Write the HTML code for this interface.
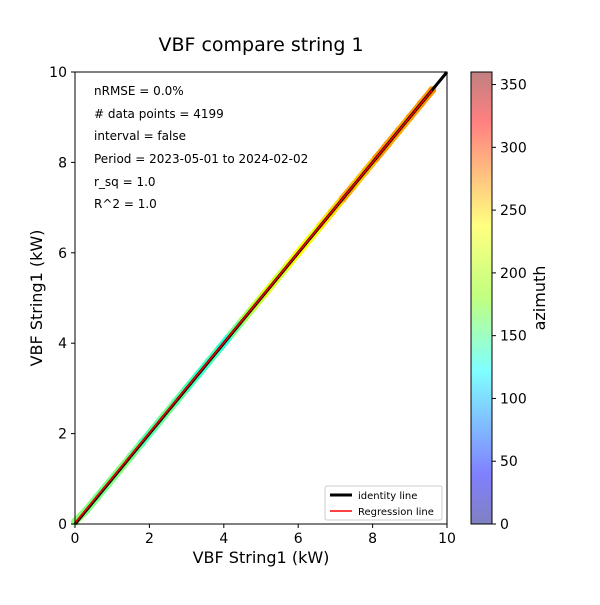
<!DOCTYPE html>
<html><head><meta charset="utf-8"><style>
body{margin:0;background:#fff}
svg text{font-family:"DejaVu Sans","Liberation Sans",sans-serif}
</style></head><body>
<svg id="chart" width="600" height="600" viewBox="0 0 600 600">
<defs>
<linearGradient id="jet" x1="0" y1="1" x2="0" y2="0">
<stop offset="0" stop-color="#8080c0"/>
<stop offset="0.11" stop-color="#8080ff"/>
<stop offset="0.34" stop-color="#80ffff"/>
<stop offset="0.5" stop-color="#c0ff80"/>
<stop offset="0.66" stop-color="#ffff80"/>
<stop offset="0.89" stop-color="#ff8080"/>
<stop offset="1" stop-color="#c08080"/>
</linearGradient>
</defs>
<rect width="600" height="600" fill="#fff"/>
<text x="261" y="51" font-size="19" text-anchor="middle">VBF compare string 1</text>
<g id="marks"></g>
<rect x="75" y="72" width="372" height="452" fill="none" stroke="#000" stroke-width="1"/>
<g id="ticks"></g>
<text x="261" y="563" font-size="16" text-anchor="middle">VBF String1 (kW)</text>
<text transform="translate(42,298) rotate(-90)" font-size="16" text-anchor="middle">VBF String1 (kW)</text>
<g font-size="12">
<text x="94" y="95">nRMSE = 0.0%</text>
<text x="94" y="118">#  data points = 4199</text>
<text x="94" y="140">interval = false</text>
<text x="94" y="163">Period = 2023-05-01 to 2024-02-02</text>
<text x="94" y="186">r_sq = 1.0</text>
<text x="94" y="208">R^2 = 1.0</text>
</g>
<g>
<rect x="325" y="486" width="117" height="34" fill="#fff" stroke="#ccc" rx="2"/>
<line x1="330" y1="495" x2="352" y2="495" stroke="#000" stroke-width="3"/>
<text x="358" y="499" font-size="10">identity line</text>
<line x1="330" y1="511" x2="352" y2="511" stroke="#f00" stroke-width="1.5"/>
<text x="358" y="515" font-size="10">Regression line</text>
</g>
<rect x="471" y="72" width="21" height="452" fill="url(#jet)" stroke="#000" stroke-width="1"/>
<g id="cticks"></g>
<text transform="translate(545,298) rotate(-90)" font-size="16" text-anchor="middle">azimuth</text>
</svg>
<script>
const xTicks=[0,2,4,6,8,10];
const yTicks=[0,2,4,6,8,10];
const cTicks=[0,50,100,150,200,250,300,350];
const pointX=[0,0.3,0.6,0.9,1.2,1.5,1.8,2.1,2.4,2.7,3.0,3.3,3.6,3.9,4.2,4.5,4.8,5.1,5.4,5.7,6.0,6.3,6.6,6.9,7.2,7.5,7.8,8.1,8.4,8.7,9.0,9.3,9.6];
const pointY=[0.05,0.3,0.6,0.9,1.2,1.5,1.8,2.1,2.4,2.7,3.0,3.3,3.6,3.9,4.2,4.5,4.8,5.1,5.4,5.7,6.0,6.3,6.6,6.9,7.2,7.5,7.8,8.1,8.4,8.7,9.0,9.3,9.6];
const pointAz=[185,180,175,178,182,175,165,170,175,168,160,155,160,150,175,195,205,215,210,220,225,220,235,240,255,245,250,262,258,255,260,262,265];
const xMin=0,xMax=10,yMin=0,yMax=10,cMin=0,cMax=360;
const X=v=>75+(v-xMin)/(xMax-xMin)*372;
const Y=v=>524-(v-yMin)/(yMax-yMin)*452;
const C=v=>524-(v-cMin)/(cMax-cMin)*452;
function jet(t){
  const r=Math.min(1,Math.max(0,1.5-Math.abs(4*t-3)));
  const g=Math.min(1,Math.max(0,1.5-Math.abs(4*t-2)));
  const b=Math.min(1,Math.max(0,1.5-Math.abs(4*t-1)));
  return `rgb(${Math.round(r*255)},${Math.round(g*255)},${Math.round(b*255)})`;
}
const NS='http://www.w3.org/2000/svg';
const marks=document.getElementById('marks');
for(let i=0;i<pointX.length;i++){
  const c=document.createElementNS(NS,'circle');
  
  
  c.setAttribute('cx',X(pointX[i]));c.setAttribute('cy',Y(pointY[i]));
  c.setAttribute('r',4);c.setAttribute('fill',jet(pointAz[i]/cMax));
  marks.appendChild(c);
  if(i<pointX.length-1){
    const s=document.createElementNS(NS,'line');
    
    
    s.setAttribute('x1',X(pointX[i]));s.setAttribute('y1',Y(pointY[i]));
    s.setAttribute('x2',X(pointX[i+1]));s.setAttribute('y2',Y(pointY[i+1]));
    s.setAttribute('stroke',jet(pointAz[i]/cMax));s.setAttribute('stroke-width',7.5);
    marks.appendChild(s);
  }
}
const id=document.createElementNS(NS,'line');


id.setAttribute('x1',X(0));id.setAttribute('y1',Y(0));id.setAttribute('x2',X(10));id.setAttribute('y2',Y(10));
id.setAttribute('stroke','#000');id.setAttribute('stroke-width',3);
marks.appendChild(id);
const rg=document.createElementNS(NS,'line');


rg.setAttribute('x1',X(0));rg.setAttribute('y1',Y(pointY[0]-0.03));rg.setAttribute('x2',X(pointX[pointX.length-1]));rg.setAttribute('y2',Y(pointY[pointY.length-1]));
rg.setAttribute('stroke','#f00');rg.setAttribute('stroke-width',1.5);
marks.appendChild(rg);
const tk=document.getElementById('ticks');
xTicks.forEach(v=>{
  const l=document.createElementNS(NS,'line');
  
  
  l.setAttribute('x1',X(v));l.setAttribute('x2',X(v));l.setAttribute('y1',524);l.setAttribute('y2',528);l.setAttribute('stroke','#000');
  tk.appendChild(l);
  const t=document.createElementNS(NS,'text');
  
  
  t.setAttribute('x',X(v));t.setAttribute('y',543);t.setAttribute('font-size',14);t.setAttribute('text-anchor','middle');
  t.textContent=v;tk.appendChild(t);
});
yTicks.forEach(v=>{
  const l=document.createElementNS(NS,'line');
  
  
  l.setAttribute('x1',71);l.setAttribute('x2',75);l.setAttribute('y1',Y(v));l.setAttribute('y2',Y(v));l.setAttribute('stroke','#000');
  tk.appendChild(l);
  const t=document.createElementNS(NS,'text');
  
  
  t.setAttribute('x',67);t.setAttribute('y',Y(v)+5);t.setAttribute('font-size',14);t.setAttribute('text-anchor','end');
  t.textContent=v;tk.appendChild(t);
});
const ct=document.getElementById('cticks');
cTicks.forEach(v=>{
  const l=document.createElementNS(NS,'line');
  
  
  l.setAttribute('x1',492);l.setAttribute('x2',496);l.setAttribute('y1',C(v));l.setAttribute('y2',C(v));l.setAttribute('stroke','#000');
  ct.appendChild(l);
  const t=document.createElementNS(NS,'text');
  
  
  t.setAttribute('x',500);t.setAttribute('y',C(v)+5);t.setAttribute('font-size',14);
  t.textContent=v;ct.appendChild(t);
});
</script>
</body></html>
